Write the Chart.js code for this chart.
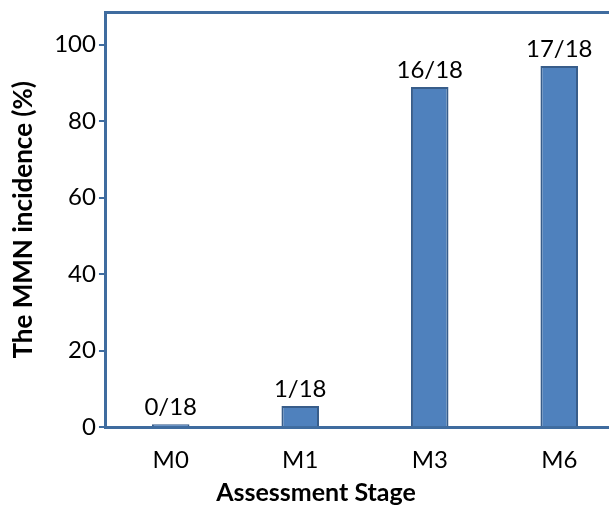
<!DOCTYPE html>
<html>
<head>
<meta charset="utf-8">
<script src="https://cdn.jsdelivr.net/npm/chart.js@4"></script>
<style>
  html, body { margin:0; padding:0; background:#fff; overflow:hidden; }
  #wrap { width:770px; height:524px; position:relative; top:-5px; }
</style>
</head>
<body>
<div id="wrap"><canvas id="mmnChart" width="770" height="524"></canvas></div>
<script>
// values
const stages = ['M0', 'M1', 'M3', 'M6'];
const incidence = [0.8, 5.56, 88.9, 94.4];
const countLabels = ['0/18', '1/18', '16/18', '17/18'];
const yTicks = [0, 20, 40, 60, 80, 100];

const axisBlue = '#3f6c9f';
const FONT = 'Lato, "Open Sans", sans-serif';

// text above each bar
const barLabels = {
  id: 'barLabels',
  afterDatasetsDraw(chart) {
    const ctx = chart.ctx;
    const meta = chart.getDatasetMeta(0);
    ctx.save();
    ctx.font = '24px ' + FONT;
    ctx.fillStyle = '#000';
    ctx.textAlign = 'center';
    ctx.textBaseline = 'bottom';
    meta.data.forEach((el, i) => {
      ctx.fillText(countLabels[i], el.x, el.y - 5);
    });
    ctx.restore();
  }
};

new Chart(document.getElementById('mmnChart').getContext('2d'), {
  type: 'bar',
  data: {
    labels: stages,
    datasets: [{
      data: incidence,
      backgroundColor: '#4f81bd',
      borderColor: '#385d8a',
      borderWidth: 2,
      borderSkipped: 'bottom',
      barPercentage: 0.29,
      categoryPercentage: 1
    }]
  },
  options: {
    responsive: false,
    animation: false,
    layout: { padding: { top: 0, right: 146, left: 8, bottom: 0 } },
    plugins: {
      legend: { display: false },
      tooltip: { enabled: false },
      title: {
        display: true,
        position: 'bottom',
        text: 'Assessment Stage',
        color: '#000',
        font: { family: FONT, size: 25, weight: 'bold' },
        padding: { top: -8, bottom: 11 }
      }
    },
    scales: {
      x: {
        grid: { display: false },
        border: { color: axisBlue, width: 3 },
        ticks: { color: '#000', font: { family: FONT, size: 24 }, padding: 11 }
      },
      xTop: {
        type: 'category',
        position: 'top',
        labels: stages,
        grid: { display: false },
        border: { color: axisBlue, width: 3 },
        ticks: { display: false }
      },
      y: {
        min: 0,
        max: 108.4,
        afterBuildTicks(scale) {
          scale.ticks = yTicks.map(v => ({ value: v }));
        },
        grid: { drawOnChartArea: false, drawTicks: true, tickLength: 7, color: axisBlue, lineWidth: 2 },
        border: { color: axisBlue, width: 3 },
        ticks: { color: '#000', font: { family: FONT, size: 24 }, padding: 3 },
        title: {
          display: true,
          text: 'The MMN incidence (%)',
          color: '#000',
          font: { family: FONT, size: 26, weight: 'bold' },
          padding: { top: 0, bottom: 12 }
        }
      }
    }
  },
  plugins: [barLabels]
});
</script>
</body>
</html>
